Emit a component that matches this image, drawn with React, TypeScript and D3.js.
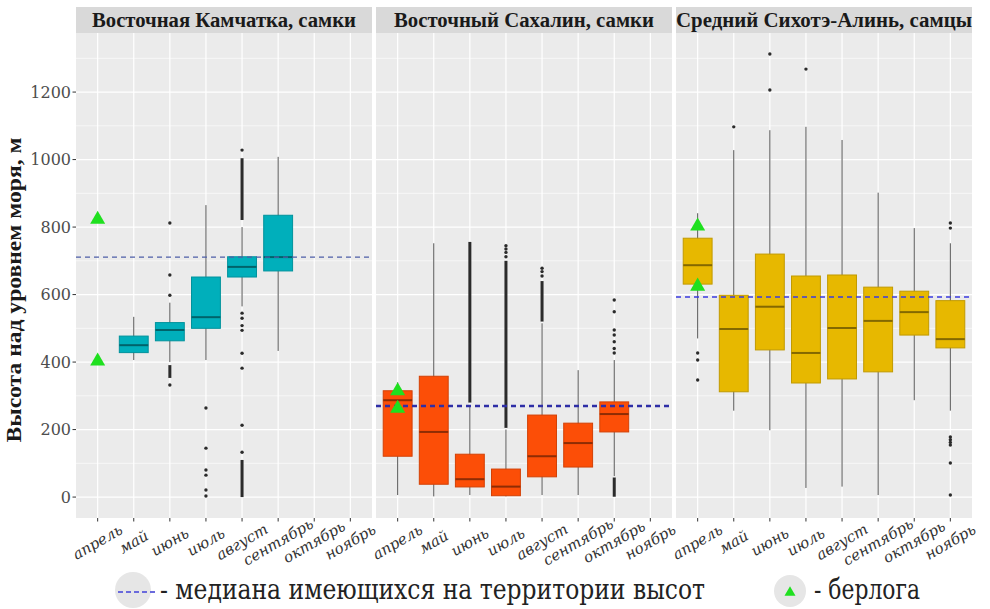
import React from "react";
import * as d3 from "d3";

const months = ["апрель", "май", "июнь", "июль", "август", "сентябрь", "октябрь", "ноябрь"];
const panelTitles = ["Восточная Камчатка, самки", "Восточный Сахалин, самки", "Средний Сихотэ-Алинь, самцы"];
const yTicks = [0, 200, 400, 600, 800, 1000, 1200];
const yMinor = [100, 300, 500, 700, 900, 1100, 1300];
const territoryMedian = [711, 270, 593];

// box stats: [month, lowWhisker, q1, median, q3, highWhisker]
type Stat = [string, number, number, number, number, number];
const kamchatkaStats: Stat[] = [
  ["май", 406, 428, 450, 477, 534],
  ["июнь", 400, 463, 495, 517, 576],
  ["июль", 406, 500, 533, 652, 865],
  ["август", 565, 652, 682, 712, 800],
  ["сентябрь", 433, 670, 711, 835, 1008],
];
const sakhalinStats: Stat[] = [
  ["апрель", 6, 121, 287, 315, 340],
  ["май", 2, 38, 193, 358, 752],
  ["июнь", 6, 30, 53, 127, 272],
  ["июль", 2, 4, 31, 83, 200],
  ["август", 6, 60, 121, 243, 515],
  ["сентябрь", 6, 89, 160, 219, 376],
  ["октябрь", 62, 193, 246, 282, 406],
];
const sikhoteStats: Stat[] = [
  ["апрель", 470, 631, 687, 767, 841],
  ["май", 256, 312, 498, 598, 1028],
  ["июнь", 198, 436, 564, 720, 1087],
  ["июль", 27, 338, 427, 655, 1097],
  ["август", 31, 350, 501, 658, 1058],
  ["сентябрь", 6, 371, 522, 622, 902],
  ["октябрь", 287, 480, 548, 610, 797],
  ["ноябрь", 256, 442, 468, 582, 752],
];

// single outliers: [month, value]
type Pt = [string, number];
const kamchatkaOutliers: Pt[] = [
  ["июнь", 812], ["июнь", 658], ["июнь", 598], ["июнь", 332],
  ["июль", 264], ["июль", 145], ["июль", 80], ["июль", 65], ["июль", 21], ["июль", 3],
  ["август", 1028], ["август", 545], ["август", 530], ["август", 508], ["август", 494],
  ["август", 426], ["август", 382], ["август", 213], ["август", 133],
];
const sakhalinOutliers: Pt[] = [
  ["июль", 712], ["июль", 725], ["июль", 735], ["июль", 745],
  ["август", 655], ["август", 668], ["август", 678],
  ["октябрь", 427], ["октябрь", 440], ["октябрь", 460], ["октябрь", 480], ["октябрь", 495],
  ["октябрь", 549], ["октябрь", 584],
];
const sikhoteOutliers: Pt[] = [
  ["апрель", 427], ["апрель", 406], ["апрель", 347],
  ["май", 1097],
  ["июнь", 1313], ["июнь", 1206],
  ["июль", 1268],
  ["ноябрь", 812], ["ноябрь", 797], ["ноябрь", 178], ["ноябрь", 170], ["ноябрь", 162],
  ["ноябрь", 154], ["ноябрь", 101], ["ноябрь", 6],
];
// dense outlier clusters: [month, from, to]
type Run = [string, number, number];
const kamchatkaRuns: Run[] = [["июнь", 353, 391], ["август", 821, 1004], ["август", 0, 110]];
const sakhalinRuns: Run[] = [["июнь", 280, 756], ["июль", 205, 700], ["август", 520, 640], ["октябрь", 1, 58]];
const sikhoteRuns: Run[] = [];

// dens (берлога)
const kamchatkaDens: Pt[] = [["апрель", 826], ["апрель", 406]];
const sakhalinDens: Pt[] = [["апрель", 318], ["апрель", 266]];
const sikhoteDens: Pt[] = [["апрель", 806], ["апрель", 628]];

const panelColors = ["#00AFBB", "#FC4E07", "#E7B800"];
const refLineColors = ["#4E5FA8", "#2E2EA6", "#3B3BE0"];
const refLineWidths = [1.3, 2.4, 1.5];

const panels = [
  { stats: kamchatkaStats, outliers: kamchatkaOutliers, runs: kamchatkaRuns, dens: kamchatkaDens },
  { stats: sakhalinStats, outliers: sakhalinOutliers, runs: sakhalinRuns, dens: sakhalinDens },
  { stats: sikhoteStats, outliers: sikhoteOutliers, runs: sikhoteRuns, dens: sikhoteDens },
];

const W = 990;
const H = 609;
const panelLeft = [76, 376, 676];
const panelWidth = 296;
const stripTop = 7;
const stripBottom = 33;
const plotBottom = 518;
const serifBold = "Liberation Serif, Times New Roman, serif";
const serif = "DejaVu Serif, serif";

const y = d3.scaleLinear().domain([-62, 1375]).range([plotBottom, stripBottom]);

function tri(cx: number, cy: number, s: number) {
  const h = s * 0.87;
  return `M${cx},${cy - h / 2 - 1}L${cx + s / 2},${cy + h / 2 - 1}L${cx - s / 2},${cy + h / 2 - 1}Z`;
}

export default function App() {
  const stripTextLen = [264, 260, 296];
  return (
    <svg width={W} height={H} style={{ display: "block", position: "absolute", left: 0, top: 0, background: "#fff" }}>
      {panels.map((p, pi) => {
        const x0 = panelLeft[pi];
        const x = d3.scalePoint<string>().domain(months).range([x0, x0 + panelWidth]).padding(0.6);
        const step = x.step();
        const bw = step * 0.8;
        const fill = panelColors[pi];
        const border = d3.color(fill)!.darker(0.5).formatHex();
        const medCol = d3.color(fill)!.darker(1.6).formatHex();
        return (
          <g key={pi}>
            <rect x={x0} y={stripBottom} width={panelWidth} height={plotBottom - stripBottom} fill="#EBEBEB" />
            {yMinor.map((v) => (
              <line key={"mi" + v} x1={x0} x2={x0 + panelWidth} y1={y(v)} y2={y(v)} stroke="#fff" strokeWidth={0.6} />
            ))}
            {yTicks.map((v) => (
              <line key={"ma" + v} x1={x0} x2={x0 + panelWidth} y1={y(v)} y2={y(v)} stroke="#fff" strokeWidth={1.2} />
            ))}
            {months.map((m) => (
              <line key={"vx" + m} x1={x(m)} x2={x(m)} y1={stripBottom} y2={plotBottom} stroke="#fff" strokeWidth={1.2} />
            ))}
            <rect x={x0} y={stripTop} width={panelWidth} height={stripBottom - stripTop} fill="#D9D9D9" />
            <text
              x={x0 + panelWidth / 2}
              y={27}
              textAnchor="middle"
              fontFamily={serifBold}
              fontWeight="bold"
              fontSize={20}
              fill="#1A1A1A"
              textLength={stripTextLen[pi]}
              lengthAdjust="spacingAndGlyphs"
            >
              {panelTitles[pi]}
            </text>
            {p.stats.map((s) => (
              <line key={"w" + s[0]} x1={x(s[0])} x2={x(s[0])} y1={y(s[1])} y2={y(s[5])} stroke="#555" strokeWidth={1} />
            ))}
            {p.runs.map((r, i) => (
              <line key={"r" + i} x1={x(r[0])} x2={x(r[0])} y1={y(r[1])} y2={y(r[2])} stroke="#2b2b2b" strokeWidth={3} />
            ))}
            {p.outliers.map((o, i) => (
              <circle key={"o" + i} cx={x(o[0])} cy={y(o[1])} r={1.7} fill="#2b2b2b" />
            ))}
            {p.stats.map((s) => (
              <g key={"b" + s[0]}>
                <rect
                  x={x(s[0])! - bw / 2}
                  y={y(s[4])}
                  width={bw}
                  height={y(s[2]) - y(s[4])}
                  fill={fill}
                  stroke={border}
                  strokeWidth={1}
                />
                <line x1={x(s[0])! - bw / 2} x2={x(s[0])! + bw / 2} y1={y(s[3])} y2={y(s[3])} stroke={medCol} strokeWidth={2} />
              </g>
            ))}
            <line
              x1={x0}
              x2={x0 + panelWidth}
              y1={y(territoryMedian[pi])}
              y2={y(territoryMedian[pi])}
              stroke={refLineColors[pi]}
              strokeWidth={refLineWidths[pi]}
              strokeDasharray="5,4"
            />
            {p.dens.map((d, i) => (
              <path key={"d" + i} d={tri(x(d[0])!, y(d[1]), 15)} fill="#1FE01F" />
            ))}
            {months.map((m) => (
              <g key={"xt" + m}>
                <line x1={x(m)} x2={x(m)} y1={plotBottom} y2={plotBottom + 3.5} stroke="#333" strokeWidth={1} />
                <text
                  transform={`translate(${x(m)},${542}) rotate(-30)`}
                  textAnchor="middle"
                  dominantBaseline="central"
                  fontFamily={serif}
                  fontStyle="italic"
                  fontSize={15}
                  fill="#333"
                >
                  {m}
                </text>
              </g>
            ))}
          </g>
        );
      })}
      {yTicks.map((v) => (
        <g key={"yt" + v}>
          <line x1={72.5} x2={76} y1={y(v)} y2={y(v)} stroke="#333" strokeWidth={1} />
          <text x={71} y={y(v)} dy="0.36em" textAnchor="end" fontFamily={serif} fontSize={16} fill="#4D4D4D">
            {v}
          </text>
        </g>
      ))}
      <text
        transform="translate(21,290) rotate(-90)"
        textAnchor="middle"
        fontFamily={serifBold}
        fontWeight="bold"
        fontSize={20}
        fill="#1A1A1A"
        textLength={305}
        lengthAdjust="spacingAndGlyphs"
      >
        Высота над уровнем моря, м
      </text>
      <circle cx={133} cy={590} r={18} fill="#E6E6E6" />
      <line x1={118} x2={156} y1={592} y2={592} stroke="#6A6ADC" strokeWidth={2} strokeDasharray="5,3" />
      <text x={160} y={599} fontFamily={serif} fontSize={27} fill="#222" textLength={545} lengthAdjust="spacingAndGlyphs">
        - медиана имеющихся на территории высот
      </text>
      <circle cx={790} cy={591} r={16} fill="#E6E6E6" />
      <path d={tri(790, 592, 11)} fill="#1FE01F" />
      <text x={814} y={599} fontFamily={serif} fontSize={27} fill="#222" textLength={106} lengthAdjust="spacingAndGlyphs">
        - берлога
      </text>
    </svg>
  );
}
